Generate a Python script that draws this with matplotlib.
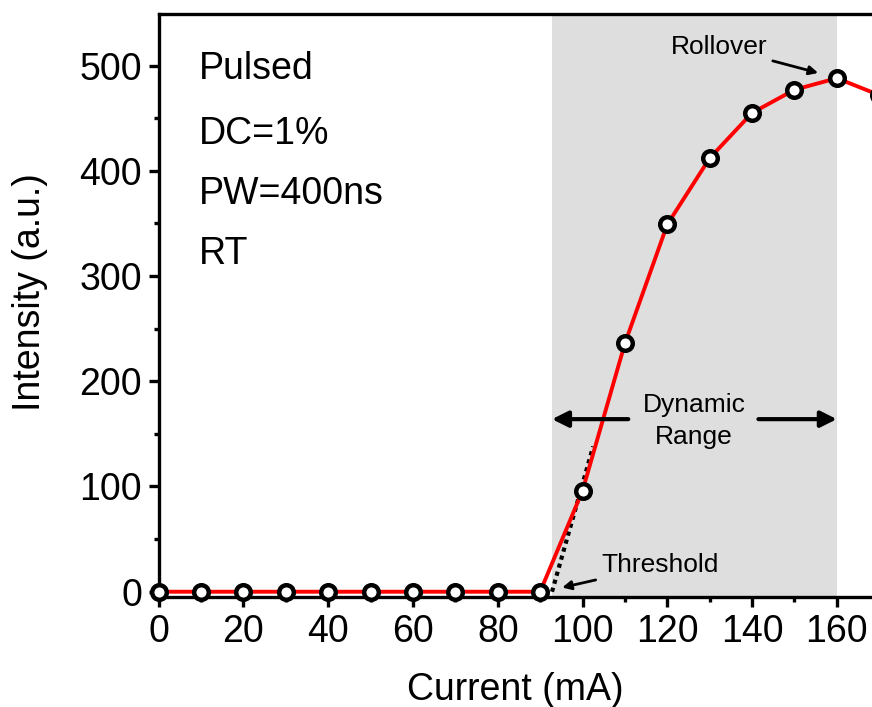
import matplotlib
matplotlib.use("Agg")
import matplotlib.pyplot as plt
from matplotlib.ticker import MultipleLocator

plt.rcParams['font.family'] = ['Liberation Sans', 'DejaVu Sans']

current = [0, 10, 20, 30, 40, 50, 60, 70, 80, 90, 100, 110, 120, 130, 140, 150, 160, 170]
intensity = [0, 0, 0, 0, 0, 0, 0, 0, 0, 0, 96, 236, 349, 412, 455, 477, 488, 472]
fit_x = [92.8, 102.5]
fit_y = [0, 138]
range_start, range_end = 92.8, 160
info_lines = ["Pulsed", "DC=1%", "PW=400ns", "RT"]
info_y = [497, 435, 378, 321]

fig = plt.figure(figsize=(8.72, 7.07), dpi=100)
ax = fig.add_axes([0.182, 0.1556, 0.818, 0.8246])

ax.axvspan(range_start, range_end, color='#dedede', zorder=0, lw=0)
ax.plot(current, intensity, color='red', lw=2.8, zorder=3)
ax.plot(fit_x, fit_y, color='black', lw=3, ls=(0, (1, 1)), zorder=2)
ax.plot(current, intensity, ls='none', marker='o', ms=10.5, mfc='white',
        mec='black', mew=3.2, zorder=4, clip_on=False)

ax.set_xlim(0, 168.3)
ax.set_ylim(-5, 549)
ax.xaxis.set_major_locator(MultipleLocator(20))
ax.xaxis.set_minor_locator(MultipleLocator(10))
ax.yaxis.set_major_locator(MultipleLocator(100))
ax.yaxis.set_minor_locator(MultipleLocator(50))

for s in ['left', 'bottom', 'top']:
    ax.spines[s].set_linewidth(2.4)
ax.spines['right'].set_visible(False)
ax.tick_params(which='major', direction='out', length=7, width=2.4, labelsize=27, pad=5)
ax.tick_params(which='minor', direction='out', length=3.6, width=2.4)
ax.tick_params(top=False, right=False)

ax.set_xlabel("Current (mA)", fontsize=27, labelpad=16)
ax.set_ylabel("Intensity (a.u.)", fontsize=27, va='center')
ax.yaxis.set_label_coords(-0.18, 0.523)

for t, yy in zip(info_lines, info_y):
    ax.text(9.4, yy, t, fontsize=27, va='center', ha='left')

# Dynamic range
ax.annotate("", xy=(range_start, 164), xytext=(110.8, 164),
            arrowprops=dict(arrowstyle='-|>', color='black', lw=3, mutation_scale=24,
                            shrinkA=0, shrinkB=0))
ax.annotate("", xy=(range_end, 164), xytext=(141.5, 164),
            arrowprops=dict(arrowstyle='-|>', color='black', lw=3, mutation_scale=24,
                            shrinkA=0, shrinkB=0))
ax.text(126.3, 162, "Dynamic\nRange", fontsize=19, ha='center', va='center', linespacing=1.4)

# Threshold
ax.annotate("Threshold", xy=(95.2, 4), xytext=(104.4, 25),
            fontsize=19, va='center', ha='left',
            arrowprops=dict(arrowstyle='-|>', color='black', lw=2, mutation_scale=13,
                            shrinkA=2, shrinkB=0))
# Rollover
ax.annotate("Rollover", xy=(155.6, 493), xytext=(143.6, 518),
            fontsize=19, va='center', ha='right',
            arrowprops=dict(arrowstyle='-|>', color='black', lw=2, mutation_scale=13,
                            shrinkA=2, shrinkB=0))

fig.savefig("out.png", dpi=100)
